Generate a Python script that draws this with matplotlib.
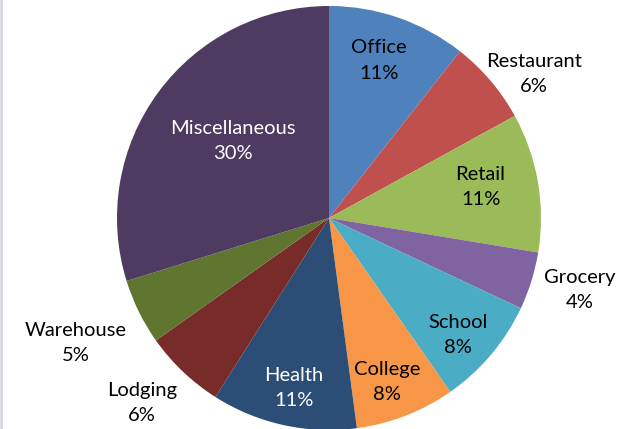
import matplotlib.pyplot as plt
import numpy as np
from matplotlib.lines import Line2D

# slice data, clockwise from the top
names = ['Office', 'Restaurant', 'Retail', 'Grocery', 'School',
         'College', 'Health', 'Lodging', 'Warehouse', 'Miscellaneous']
shares = [10.6, 6.4, 10.6, 4.4, 8.3, 7.6, 11.1, 6.2, 5.0, 29.8]
colors = ['#4F81BD', '#C0504D', '#9BBB59', '#8064A2', '#4BACC6',
          '#F79646', '#2C4D75', '#772C2A', '#5F7530', '#4D3B62']
# label distance from centre (fraction of radius), angle nudge (deg) and text colour
label_r = [0.78, 1.18, 0.73, 1.23, 0.82, 0.82, 0.82, 1.24, 1.33, 0.58]
label_da = [-1.5, 5.2, -1.9, -1.3, 2.1, 1.7, -0.8, 1.7, 0.0, 2.3]
label_col = ['black', 'black', 'black', 'black', 'black',
             'black', 'white', 'black', 'black', 'white']

plt.rcParams['font.family'] = ['Lato', 'DejaVu Sans']

fig = plt.figure(figsize=(6.21, 4.29), dpi=100)
# pie centre at (329, 218) px, radius 212 px
ax = fig.add_axes([(329 - 212) / 621, (429 - 218 - 212) / 429, 424 / 621, 424 / 429])

wedges, _ = ax.pie(shares, colors=colors, startangle=90, counterclock=False,
                   radius=1, wedgeprops=dict(linewidth=0))

total = sum(shares)
cum = 0
for name, s, r, da, c in zip(names, shares, label_r, label_da, label_col):
    mid = (cum + s / 2) / total * 2 * np.pi + np.radians(da)
    cum += s
    # clockwise from top
    x = r * np.sin(mid)
    y = r * np.cos(mid)
    ax.text(x, y, f'{name}\n{round(s / total * 100):.0f}%', ha='center', va='center',
            fontsize=14.5, color=c, linespacing=1.6)

ax.set_xlim(-1, 1)
ax.set_ylim(-1, 1)
ax.set_aspect('equal')
ax.axis('off')

# faint spreadsheet gridline at the left edge
fig.add_artist(Line2D([0.002, 0.002], [0, 1], color='#d8d8e0', lw=2, transform=fig.transFigure))

fig.savefig('out.png', dpi=100)
